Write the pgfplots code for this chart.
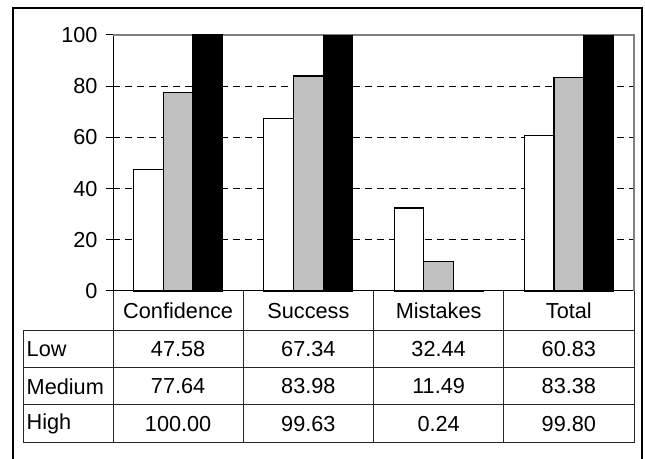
\documentclass[border=0pt]{standalone}
\usepackage{fontspec}
\setmainfont{Liberation Sans}
\usepackage{pgfplots}
\pgfplotsset{compat=1.18}
\definecolor{barGray}{RGB}{192,192,192}
\newcommand{\cf}{\fontsize{21.7bp}{25bp}\selectfont}
\begin{document}
\begin{tikzpicture}
\useasboundingbox (0,0) rectangle (645bp,459bp);
% outer frame (bottom edge outside the picture)
\draw[black, line width=2.2bp] (13bp,-2bp) -- (13bp,451bp) -- (642bp,451bp) -- (642bp,-2bp);
\begin{axis}[
  at={(113bp,168bp)}, anchor=south west,
  scale only axis, width=521bp, height=256bp,
  xmin=0, xmax=4, ymin=0, ymax=100, enlargelimits=false,
  xtick=\empty, ytick={0,20,40,60,80,100},
  axis lines=left, axis line style={-, line width=1bp, black},
  extra y ticks={20,40,60,80}, extra y tick labels={},
  extra y tick style={ymajorgrids=true, major tick length=0pt},
  grid style={black, dash pattern=on 7bp off 5bp, line width=0.8bp},
  tick align=outside, major tick length=7bp, tick style={black, line width=1bp},
  yticklabel style={font=\cf, /pgf/number format/assume math mode=true, xshift=-5bp},
  ybar=0pt, bar width=29.7bp,
  clip=false,
]
\draw[gray, line width=1.2bp] (rel axis cs:0,1) -- (rel axis cs:1,1) -- (rel axis cs:1,0);
\addplot[fill=white, draw=black, line width=1.1bp] coordinates {(0.5,47.58) (1.5,67.34) (2.5,32.44) (3.5,60.83)};
\addplot[fill=barGray, draw=black, line width=1.1bp] coordinates {(0.5,77.64) (1.5,83.98) (2.5,11.49) (3.5,83.38)};
\addplot[fill=black, draw=black, line width=1.1bp] coordinates {(0.5,100) (1.5,99.63) (2.5,0.24) (3.5,99.80)};
\end{axis}
\begin{scope}[x=1bp,y=1bp]
  % header row verticals
  \foreach \xx in {113,243.25,373.5,503.75,634} \draw[black!85, line width=1bp] (\xx,168) -- (\xx,16);
  % table horizontals
  \foreach \yy in {128,91,54,16} \draw[black!85, line width=1bp] (23,\yy) -- (634,\yy);
  \draw[black!85, line width=1bp] (23,128) -- (23,16);
  % header
  \foreach \t [count=\i from 0] in {Confidence,Success,Mistakes,Total}
    \node[font=\cf, inner sep=0pt] at ({113+130.25*(\i+0.5)},148) {\t};
  % row labels
  \node[font=\cf, inner sep=0pt, anchor=west] at (26.5,109.5) {Low};
  \node[font=\cf, inner sep=0pt, anchor=west] at (26.5,72.5) {Medium};
  \node[font=\cf, inner sep=0pt, anchor=west] at (26.5,35) {High};
  % values
  \foreach \t [count=\i from 0] in {47.58,67.34,32.44,60.83}
    \node[font=\cf, inner sep=0pt] at ({113+130.25*(\i+0.5)},109.5) {\t};
  \foreach \t [count=\i from 0] in {77.64,83.98,11.49,83.38}
    \node[font=\cf, inner sep=0pt] at ({113+130.25*(\i+0.5)},72.5) {\t};
  \foreach \t [count=\i from 0] in {100.00,99.63,0.24,99.80}
    \node[font=\cf, inner sep=0pt] at ({113+130.25*(\i+0.5)},35) {\t};
\end{scope}
\end{tikzpicture}
\end{document}
